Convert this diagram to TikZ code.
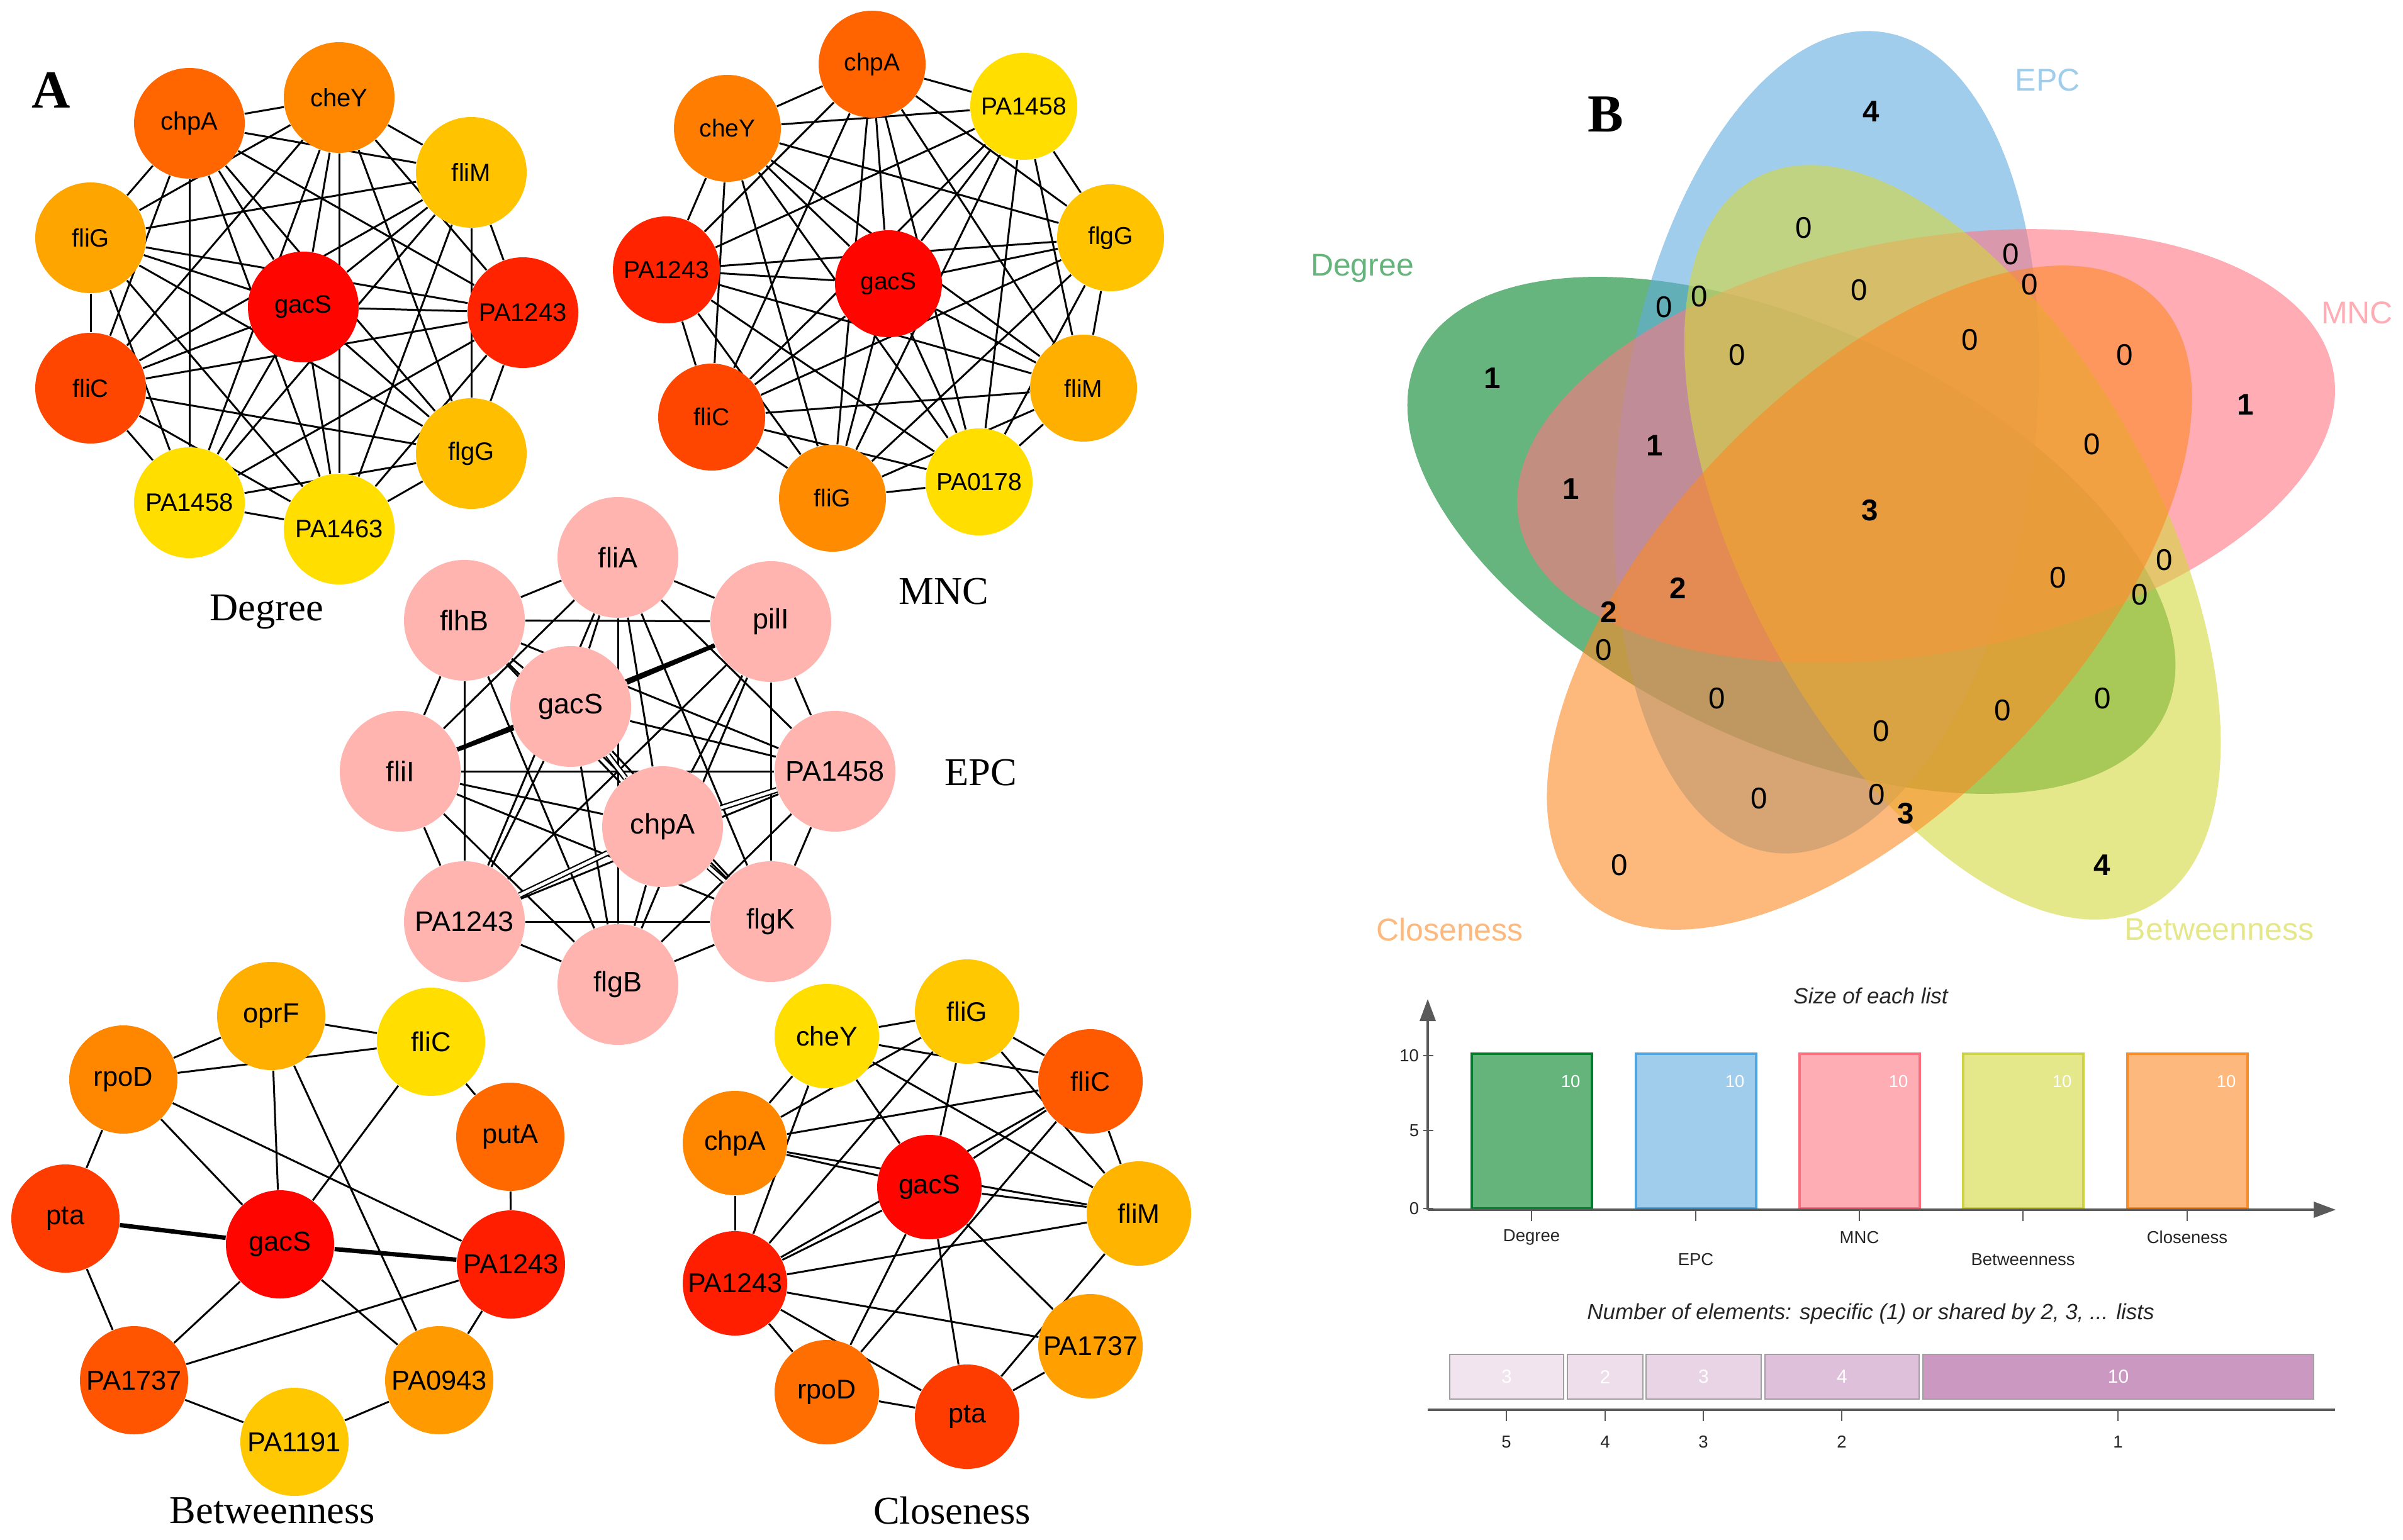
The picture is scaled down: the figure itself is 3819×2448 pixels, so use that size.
\documentclass[tikz,border=0pt]{standalone}
\usepackage{fontspec}
\setmainfont{Liberation Serif}
\setsansfont{Liberation Sans}
\usetikzlibrary{arrows.meta,backgrounds}
\definecolor{vgreen}{RGB}{0,130,40}
\definecolor{vblue}{RGB}{97,172,222}
\definecolor{vpink}{RGB}{255,118,130}
\definecolor{vyellow}{RGB}{212,215,62}
\definecolor{vorange}{RGB}{252,138,38}
\definecolor{lgreen}{RGB}{100,180,124}
\definecolor{lblue}{RGB}{160,205,235}
\definecolor{lpink}{RGB}{255,173,180}
\definecolor{lyellow}{RGB}{229,231,139}
\definecolor{lorange}{RGB}{253,185,125}
\definecolor{bgreen}{RGB}{0,125,45}
\definecolor{bblue}{RGB}{80,165,220}
\definecolor{bpink}{RGB}{250,110,125}
\definecolor{byellow}{RGB}{205,210,70}
\definecolor{borange}{RGB}{250,140,40}
\definecolor{epcpink}{RGB}{255,180,175}
\definecolor{axisgray}{RGB}{90,90,90}
\definecolor{boxgray}{RGB}{160,160,160}
\tikzset{
  lnk/.style={line width=0.6pt, black},
  tlnk/.style={line width=1.4pt, black},
  dlnk/.style={double=white, double distance=1.0pt, line width=0.45pt, black},
  gn/.style={circle, inner sep=0pt, text=black, fill={rgb,255:red,255;green,#1;blue,0}},
  dg/.style={minimum size=35.2pt, font=\sffamily\fontsize{8}{8}\selectfont},
  mn/.style={minimum size=34pt, font=\sffamily\fontsize{7.8}{8}\selectfont},
  ep/.style={circle, inner sep=0pt, fill=epcpink, text=black, minimum size=38.4pt, font=\sffamily\fontsize{9}{9}\selectfont},
  bt/.style={minimum size=34.4pt, font=\sffamily\fontsize{8.7}{9}\selectfont},
  cl/.style={minimum size=33.2pt, font=\sffamily\fontsize{8.6}{9}\selectfont},
  captxt/.style={inner sep=0pt, font=\fontsize{12.5}{13}\selectfont},
  paneltxt/.style={inner sep=0pt, font=\bfseries\fontsize{17}{17}\selectfont},
  vnum/.style={inner sep=0pt, font=\sffamily\fontsize{9.5}{10}\selectfont},
  vbold/.style={inner sep=0pt, font=\sffamily\bfseries\fontsize{9.5}{10}\selectfont},
  vcat/.style={inner sep=0pt, font=\sffamily\fontsize{10}{10}\selectfont},
  axln/.style={line width=0.7pt, axisgray},
  tk/.style={line width=0.4pt, axisgray},
  smalltxt/.style={inner sep=0pt, font=\sffamily\fontsize{5.5}{6}\selectfont, text=black!85},
  btitle/.style={inner sep=0pt, font=\sffamily\itshape\fontsize{7}{8}\selectfont, text=black!85},
  barbox/.style={draw, line width=0.8pt, anchor=south, minimum width=38.2pt, minimum height=49.2pt, inner sep=0pt},
  barnum/.style={inner sep=0pt, font=\sffamily\fontsize{5.5}{6}\selectfont, text=white},
  sbox/.style={draw=boxgray, line width=0.5pt, minimum height=14.2pt, inner sep=0pt, font=\sffamily\fontsize{6}{6}\selectfont, text=white}
}
\begin{document}
\begin{tikzpicture}[x=0.2pt,y=-0.2pt]
\useasboundingbox (0,0) rectangle (3819,2448);

% ---------------- Degree ----------------
\node[gn=102,dg] (d1) at (301,196) {chpA};
\node[gn=135,dg] (d2) at (539,155) {cheY};
\node[gn=195,dg] (d3) at (749,274) {fliM};
\node[gn=35,dg]  (d4) at (831,497) {PA1243};
\node[gn=190,dg] (d5) at (749,721) {flgG};
\node[gn=222,dg] (d6) at (539,841) {PA1463};
\node[gn=222,dg] (d7) at (301,799) {PA1458};
\node[gn=70,dg]  (d8) at (144,617) {fliC};
\node[gn=165,dg] (d9) at (144,378) {fliG};
\node[gn=5,dg]   (d10) at (482,488) {gacS};
\node[paneltxt] (labA) at (81,143) {A};
\node[captxt] (capD) at (424,973) {Degree};

% ---------------- MNC ----------------
\node[gn=100,mn] (m1) at (1386,102) {chpA};
\node[gn=222,mn] (m2) at (1627,169) {PA1458};
\node[gn=195,mn] (m3) at (1765,378) {flgG};
\node[gn=175,mn] (m4) at (1722,617) {fliM};
\node[gn=222,mn] (m5) at (1556,766) {PA0178};
\node[gn=140,mn] (m6) at (1323,792) {fliG};
\node[gn=70,mn]  (m7) at (1131,663) {fliC};
\node[gn=35,mn]  (m8) at (1059,429) {PA1243};
\node[gn=125,mn] (m9) at (1156,204) {cheY};
\node[gn=5,mn]   (m10) at (1412,451) {gacS};
\node[captxt] (capM) at (1500,940) {MNC};

% ---------------- EPC ----------------
\node[ep] (e1) at (982,886) {fliA};
\node[ep] (e2) at (738,986) {flhB};
\node[ep] (e3) at (1225,988) {pilI};
\node[ep] (e4) at (907,1123) {gacS};
\node[ep] (e5) at (636,1226) {fliI};
\node[ep] (e6) at (1327,1226) {PA1458};
\node[ep] (e7) at (1053,1314) {chpA};
\node[ep] (e8) at (738,1465) {PA1243};
\node[ep] (e9) at (1225,1465) {flgK};
\node[ep] (e10) at (982,1565) {flgB};
\node[captxt] (capE) at (1559,1228) {EPC};

% ---------------- Betweenness ----------------
\node[gn=175,bt] (bo) at (431,1615) {oprF};
\node[gn=222,bt] (bf) at (685,1656) {fliC};
\node[gn=135,bt] (br) at (196,1716) {rpoD};
\node[gn=105,bt] (bu) at (811,1807) {putA};
\node[gn=60,bt]  (bp) at (104,1937) {pta};
\node[gn=5,bt]   (bg) at (445,1978) {gacS};
\node[gn=30,bt]  (bA) at (812,2010) {PA1243};
\node[gn=85,bt]  (bB) at (213,2194) {PA1737};
\node[gn=155,bt] (bC) at (698,2194) {PA0943};
\node[gn=200,bt] (bD) at (468,2292) {PA1191};
\node[captxt] (capB) at (433,2401) {Betweenness};

% ---------------- Closeness ----------------
\node[gn=222,cl] (cY) at (1314,1647) {cheY};
\node[gn=200,cl] (cG) at (1537,1608) {fliG};
\node[gn=90,cl]  (cC) at (1733,1719) {fliC};
\node[gn=135,cl] (cA) at (1168,1817) {chpA};
\node[gn=5,cl]   (cg) at (1477,1887) {gacS};
\node[gn=180,cl] (cM) at (1810,1929) {fliM};
\node[gn=30,cl]  (cP) at (1168,2040) {PA1243};
\node[gn=160,cl] (cB) at (1733,2140) {PA1737};
\node[gn=110,cl] (cR) at (1314,2213) {rpoD};
\node[gn=60,cl]  (cT) at (1537,2252) {pta};
\node[captxt] (capC) at (1513,2401) {Closeness};

% ---------------- edges (behind) ----------------
\begin{pgfonlayer}{background}
\fill[white] (0,0) rectangle (3819,2448);
\foreach \i in {1,...,9}{
  \pgfmathtruncatemacro{\s}{\i+1}
  \foreach \j in {\s,...,10}{
    \draw[lnk] (d\i) -- (d\j);
    \draw[lnk] (m\i) -- (m\j);
    \draw[lnk] (e\i) -- (e\j);
  }
}
\draw[tlnk] (e4) -- (e3);
\draw[tlnk] (e4) -- (e5);
\draw[dlnk] (e7) -- (e6);
\draw[dlnk] (e7) -- (e8);
\draw[dlnk] (e7) -- (e9);
\draw[dlnk] (e4) -- (e7);
% Betweenness
\foreach \a/\b in {br/bo, bo/bf, br/bf, br/bp, br/bg, br/bA, bo/bg, bo/bC, bf/bg, bf/bu, bu/bA, bp/bB, bg/bB, bg/bC, bB/bA, bA/bC, bB/bD, bD/bC}
  \draw[lnk] (\a) -- (\b);
\draw[tlnk] (bp) -- (bg);
\draw[tlnk] (bg) -- (bA);
% Closeness
\foreach \a/\b in {cY/cG, cY/cC, cY/cM, cY/cA, cY/cP, cY/cg, cG/cC, cG/cA, cG/cg, cG/cP, cG/cM, cC/cA, cC/cg, cC/cP, cC/cR, cC/cM, cA/cg, cA/cM, cA/cP, cg/cM, cg/cP, cg/cR, cg/cT, cg/cB, cM/cP, cM/cT, cP/cB, cP/cR, cP/cT, cR/cT, cT/cB}
  \draw[lnk] (\a) -- (\b);
\end{pgfonlayer}

% ---------------- Venn ----------------
\fill[vgreen, fill opacity=0.6, rotate around={-25.6:(2847,851)}] (2847,851) ellipse [x radius=658, y radius=329];
\fill[vblue, fill opacity=0.6, rotate around={-97.6:(2903,703)}] (2903,703) ellipse [x radius=658, y radius=329];
\fill[vpink, fill opacity=0.6, rotate around={-169.6:(3061,709)}] (3061,709) ellipse [x radius=658, y radius=329];
\fill[vyellow, fill opacity=0.6, rotate around={-241.6:(3103,862)}] (3103,862) ellipse [x radius=658, y radius=329];
\fill[vorange, fill opacity=0.6, rotate around={-313.6:(2971,950)}] (2971,950) ellipse [x radius=658, y radius=329];

\node[paneltxt] (labB) at (2552,182) {B};
\node[vcat, text=lblue] (catE) at (3254,127) {EPC};
\node[vcat, text=lgreen] (catD) at (2165,426) {Degree};
\node[vcat, text=lpink] (catM) at (3746,497) {MNC};
\node[vcat, text=lorange] (catC) at (2304,1478) {Closeness};
\node[vcat, text=lyellow] (catB) at (3527,1478) {Betweenness};

\foreach \x/\y [count=\k] in {2867/362, 3196/404, 2955/461, 3226/452, 2645/488, 2701/471, 2761/564, 3131/540, 3377/564, 3325/706, 3440/890, 3271/918, 3401/945, 2549/1033, 2729/1110, 3342/1110, 3183/1129, 2990/1162, 2796/1269, 2983/1263, 2574/1375}
  \node[vnum] (vz\k) at (\x,\y) {0};
\foreach \x/\y/\t [count=\k] in {2974/177/4, 2372/601/1, 3569/643/1, 2630/708/1, 2497/777/1, 2972/811/3, 2667/935/2, 2557/973/2, 3029/1293/3, 3341/1375/4}
  \node[vbold] (vb\k) at (\x,\y) {\t};

% ---------------- Size of each list ----------------
\node[btitle] (t1) at (2973,1583) {Size of each list};
\coordinate (o1) at (2269,1923);
\coordinate (ytop) at (2269,1588);
\coordinate (xend) at (3712,1923);
\node[barbox, fill=lgreen, draw=bgreen] (bar1) at (2434,1923) {};
\node[barbox, fill=lblue, draw=bblue] (bar2) at (2695,1923) {};
\node[barbox, fill=lpink, draw=bpink] (bar3) at (2955,1923) {};
\node[barbox, fill=lyellow, draw=byellow] (bar4) at (3215,1923) {};
\node[barbox, fill=lorange, draw=borange] (bar5) at (3476,1923) {};
\draw[axln, -{Triangle[length=7pt,width=5pt]}] (o1) -- (ytop);
\draw[axln, -{Triangle[length=7pt,width=5pt]}] (o1) -- (xend);
\foreach \x in {2496,2757,3017,3277,3538}
  \node[barnum] (bn\x) at (\x,1719) {10};
\foreach \y/\t in {1678/10, 1797/5, 1921/0}{
  \draw[tk] (2262,\y) -- (2278,\y);
  \node[smalltxt, anchor=east] (yl\t) at (2256,\y) {\t};
}
\foreach \x in {2434,2695,2955,3215,3476}
  \draw[tk] (\x,1923) -- (\x,1941);
\node[smalltxt] (xl1) at (2434,1967) {Degree};
\node[smalltxt] (xl2) at (2695,2002) {EPC};
\node[smalltxt] (xl3) at (2955,1967) {MNC};
\node[smalltxt] (xl4) at (3215,2002) {Betweenness};
\node[smalltxt] (xl5) at (3476,1967) {Closeness};

% ---------------- Number of elements ----------------
\node[btitle] (t2) at (2973,2088) {Number of elements: specific (1) or shared by 2, 3, ... lists};
\node[sbox, fill={rgb,255:red,242;green,228;blue,238}, minimum width=36.2pt] (s5) at (2394.5,2188.5) {3};
\node[sbox, fill={rgb,255:red,238;green,221;blue,234}, minimum width=24pt] (s4) at (2551,2188.5) {2};
\node[sbox, fill={rgb,255:red,232;green,212;blue,229}, minimum width=36.6pt] (s3) at (2707.5,2188.5) {3};
\node[sbox, fill={rgb,255:red,222;green,192;blue,218}, minimum width=49pt] (s2) at (2927.5,2188.5) {4};
\node[sbox, fill={rgb,255:red,202;green,152;blue,192}, minimum width=124.2pt] (s1) at (3366.5,2188.5) {10};
\coordinate (l1) at (2269,2241);
\coordinate (l2) at (3711,2241);
\draw[axln, line width=0.9pt] (l1) -- (l2);
\foreach \x/\t in {2394/5, 2551/4, 2707/3, 2927/2, 3366/1}{
  \draw[tk] (\x,2241) -- (\x,2259);
  \node[smalltxt] (nl\t) at (\x,2292) {\t};
}
\end{tikzpicture}
\end{document}
